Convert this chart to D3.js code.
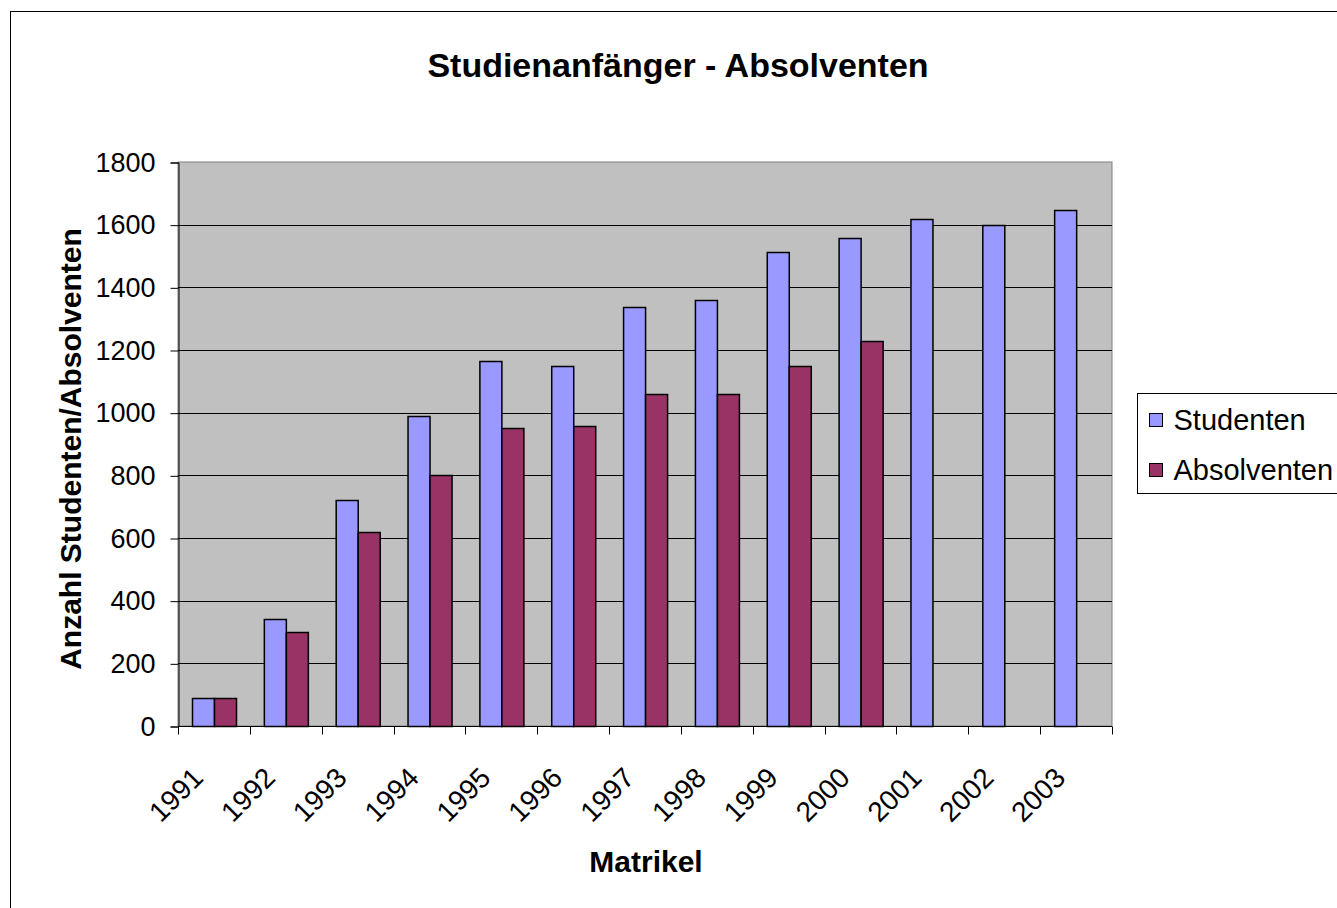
<!DOCTYPE html>
<html>
<head>
<meta charset="utf-8">
<script src="https://cdn.jsdelivr.net/npm/d3@7"></script>
<style>
  html, body { margin: 0; padding: 0; background: #fff; overflow: hidden; }
  text { font-family: "Liberation Sans", Arial, sans-serif; }
</style>
</head>
<body>
<svg width="1337" height="908"></svg>
<script>
// chart data
const years = ["1991", "1992", "1993", "1994", "1995", "1996", "1997",
	"1998", "1999", "2000", "2001", "2002", "2003"];
const studenten = [90, 340, 720, 990, 1165, 1150, 1337, 1360, 1512, 1556, 1618, 1600, 1648];
const absolventen = [90, 300, 620, 800, 952, 958, 1058, 1058, 1150, 1230, null, null, null];
const seriesNames = ["Studenten", "Absolventen"];
const seriesColors = ["#9999FF", "#993366"];
const yTicks = [0, 200, 400, 600, 800, 1000, 1200, 1400, 1600, 1800];

const svg = d3.select("svg");

// outer chart frame
svg.append("rect")
	.attr("x", 10.5).attr("y", 11.5)
	.attr("width", 1400).attr("height", 1000)
	.attr("fill", "#fff")
	.attr("stroke", "#000");

const plot = {left: 178, right: 1112, top: 162, bottom: 726};

const x = d3.scaleBand()
	.domain(years)
	.range([plot.left, plot.right]);

const x1 = d3.scaleBand()
	.domain(seriesNames)
	.range([0, x.bandwidth()])
	.paddingOuter(0.62);

const y = d3.scaleLinear()
	.domain([0, 1800])
	.range([plot.bottom, plot.top]);

// plot background
svg.append("rect")
	.attr("x", plot.left).attr("y", plot.top)
	.attr("width", plot.right - plot.left).attr("height", plot.bottom - plot.top)
	.attr("fill", "#C0C0C0")
	.attr("stroke", "#808080");

// gridlines
svg.append("g")
	.selectAll("line")
	.data(yTicks.filter(d => d > 0 && d < 1800))
	.join("line")
	.attr("x1", plot.left).attr("x2", plot.right)
	.attr("y1", d => Math.round(y(d)) + 0.5).attr("y2", d => Math.round(y(d)) + 0.5)
	.attr("stroke", "#000");

// bars
const data = years.map((yr, i) => ({year: yr, values: [studenten[i], absolventen[i]]}));

svg.append("g")
	.selectAll("g")
	.data(data)
	.join("g")
	.attr("transform", d => `translate(${x(d.year)},0)`)
	.selectAll("rect")
	.data(d => d.values.map((v, k) => ({name: seriesNames[k], k, v})).filter(e => e.v != null))
	.join("rect")
	.attr("x", d => Math.round(x1(d.name)) + 0.5)
	.attr("y", d => Math.round(y(d.v)) + 0.5)
	.attr("width", Math.round(x1.bandwidth()))
	.attr("height", d => Math.round(y(0)) - Math.round(y(d.v)))
	.attr("fill", d => seriesColors[d.k])
	.attr("stroke", "#000")
	.attr("stroke-width", 1.5);

// y axis
const yAxis = d3.axisLeft(y)
	.tickValues(yTicks)
	.tickFormat(d3.format("d"))
	.tickSize(8)
	.tickPadding(15);

const gy = svg.append("g")
	.attr("transform", `translate(${plot.left + 0.5},0.5)`)
	.call(yAxis);
gy.select(".domain").attr("stroke", "#000");
gy.selectAll(".tick line").attr("stroke", "#000");
gy.selectAll("text")
	.attr("font-size", 27)
	.attr("font-family", "Liberation Sans, Arial, sans-serif")
	.attr("fill", "#000");

// x axis: ticks at category boundaries
const gx = svg.append("g")
	.attr("transform", `translate(0,${plot.bottom + 0.5})`);
gx.append("line")
	.attr("x1", plot.left).attr("x2", plot.right)
	.attr("stroke", "#000");
gx.selectAll("line.tk")
	.data(years.concat(["end"]))
	.join("line")
	.attr("class", "tk")
	.attr("x1", (d, i) => Math.round(plot.left + i * x.step()) + 0.5)
	.attr("x2", (d, i) => Math.round(plot.left + i * x.step()) + 0.5)
	.attr("y1", 0).attr("y2", 8)
	.attr("stroke", "#000");
gx.selectAll("text")
	.data(years)
	.join("text")
	.attr("transform", d => `translate(${x(d) + x.bandwidth() / 2 - 16},${46}) rotate(-45)`)
	.attr("text-anchor", "end")
	.attr("dy", "0.35em")
	.attr("font-size", 28)
	.text(d => d);

// titles
svg.append("text")
	.attr("x", 678).attr("y", 77)
	.attr("text-anchor", "middle")
	.attr("font-size", 34)
	.attr("font-weight", "bold")
	.text("Studienanfänger - Absolventen");

svg.append("text")
	.attr("x", 646).attr("y", 872)
	.attr("text-anchor", "middle")
	.attr("font-size", 30)
	.attr("font-weight", "bold")
	.text("Matrikel");

svg.append("text")
	.attr("transform", `translate(81,449) rotate(-90)`)
	.attr("text-anchor", "middle")
	.attr("font-size", 30)
	.attr("font-weight", "bold")
	.text("Anzahl Studenten/Absolventen");

// legend
const legend = svg.append("g").attr("transform", "translate(1137.5,393.5)");
legend.append("rect")
	.attr("width", 260).attr("height", 100)
	.attr("fill", "#fff")
	.attr("stroke", "#000");
const li = legend.selectAll("g")
	.data(seriesNames)
	.join("g")
	.attr("transform", (d, i) => `translate(0,${26 + i * 50})`);
li.append("rect")
	.attr("x", 12).attr("y", -6)
	.attr("width", 13).attr("height", 13)
	.attr("fill", (d, i) => seriesColors[i])
	.attr("stroke", "#000");
li.append("text")
	.attr("x", 36).attr("y", 10)
	.attr("font-size", 29)
	.text(d => d);
</script>
</body>
</html>
